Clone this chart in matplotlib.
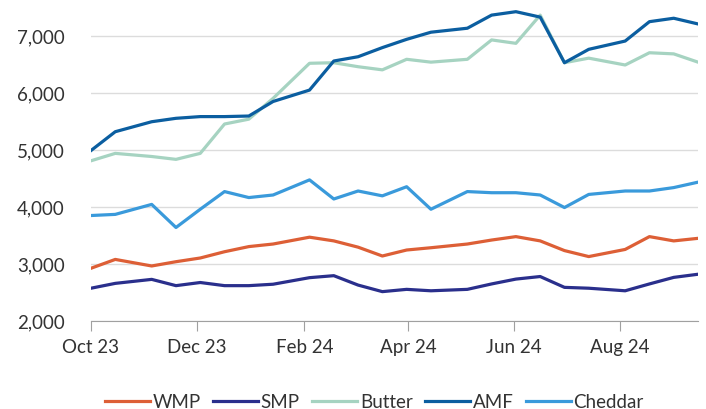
import matplotlib
matplotlib.use("Agg")
import matplotlib.pyplot as plt
import pandas as pd

plt.rcParams["font.family"] = ["Lato", "DejaVu Sans"]

# Fechas de subasta (quincenales)
fechas = pd.to_datetime([
    "2023-10-03", "2023-10-17", "2023-11-07", "2023-11-21", "2023-12-05", "2023-12-19",
    "2024-01-02", "2024-01-16", "2024-02-06", "2024-02-20", "2024-03-05", "2024-03-19",
    "2024-04-02", "2024-04-16", "2024-05-07", "2024-05-21", "2024-06-04", "2024-06-18",
    "2024-07-02", "2024-07-16", "2024-08-06", "2024-08-20", "2024-09-03", "2024-09-17",
])

wmp = [2925, 3080, 2965, 3040, 3105, 3215, 3305, 3350, 3470, 3405, 3295, 3140,
       3245, 3285, 3350, 3420, 3480, 3405, 3235, 3130, 3255, 3480, 3405, 3450]
smp = [2575, 2660, 2730, 2620, 2675, 2620, 2620, 2645, 2760, 2795, 2630, 2515,
       2555, 2530, 2555, 2650, 2735, 2780, 2590, 2575, 2530, 2650, 2765, 2820]
butter = [4810, 4940, 4885, 4835, 4940, 5455, 5540, 5905, 6520, 6530, 6460, 6405,
          6590, 6540, 6590, 6930, 6870, 7365, 6530, 6610, 6490, 6705, 6685, 6540]
amf = [4990, 5320, 5495, 5555, 5585, 5585, 5595, 5850, 6050, 6560, 6635, 6795,
       6940, 7065, 7135, 7365, 7425, 7330, 6530, 6765, 6910, 7250, 7310, 7210]
cheddar = [3850, 3870, 4045, 3640, 3960, 4270, 4165, 4210, 4475, 4140, 4280, 4195,
           4355, 3960, 4270, 4250, 4250, 4210, 3990, 4220, 4280, 4280, 4340, 4435]

xt_fechas = ["2023-10-03", "2023-12-03", "2024-02-03", "2024-04-03", "2024-06-03", "2024-08-03"]
xt_labels = ["Oct 23", "Dec 23", "Feb 24", "Apr 24", "Jun 24", "Aug 24"]

series = [
    ("WMP", wmp, "#DD5F36"),
    ("SMP", smp, "#2A2F8C"),
    ("Butter", butter, "#A6D3C1"),
    ("AMF", amf, "#0B5EA0"),
    ("Cheddar", cheddar, "#3A9ADB"),
]

fig = plt.figure(figsize=(7.06, 4.09), dpi=100)
ax = fig.add_axes([91 / 706, 1 - 321 / 409, (698 - 91) / 706, 321 / 409])

for nombre, vals, color in series:
    ax.plot(fechas, vals, color=color, lw=2.3, label=nombre)

ax.set_ylim(2000, 7630)
ax.set_xlim(fechas[0], fechas[-1])
ax.set_yticks([2000, 3000, 4000, 5000, 6000, 7000])
ax.yaxis.set_major_formatter(matplotlib.ticker.FuncFormatter(lambda v, p: f"{int(v):,}"))
ax.grid(axis="y", color="#DCDCDC", lw=1)
ax.set_axisbelow(True)

ax.set_xticks(pd.to_datetime(xt_fechas))
ax.set_xticklabels(xt_labels)

for s in ["top", "right", "left"]:
    ax.spines[s].set_visible(False)
ax.spines["bottom"].set_color("#A0A0A0")
ax.tick_params(axis="y", length=0, pad=19, labelsize=13.5, labelcolor="#333333")
ax.tick_params(axis="x", length=7, color="#A0A0A0", pad=6, labelsize=13.5, labelcolor="#333333")

# Leyenda debajo del gráfico
fig.legend(loc="lower center", bbox_to_anchor=(0.53, -0.045), ncol=5, frameon=False,
           fontsize=13.5, handlelength=2.4, handletextpad=0.15, columnspacing=0.65,
           labelcolor="#333333")

fig.savefig("out.png", dpi=100)
